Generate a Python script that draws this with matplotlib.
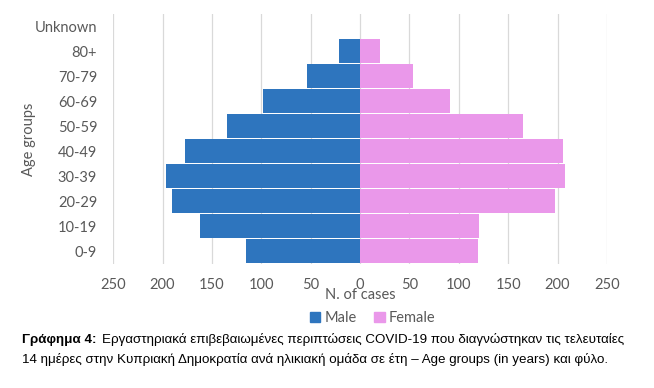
import numpy as np
import matplotlib
matplotlib.use("Agg")
import matplotlib.pyplot as plt
from matplotlib.patches import Patch

# data
age_groups = ["0-9", "10-19", "20-29", "30-39", "40-49", "50-59", "60-69", "70-79", "80+", "Unknown"]
male = [115, 162, 190, 196, 177, 135, 98, 54, 21, 0]
female = [119, 120, 197, 208, 206, 165, 91, 54, 20, 0]
xticks = [-250, -200, -150, -100, -50, 0, 50, 100, 150, 200, 250]

BLUE = "#2E75BE"
PINK = "#EA98EA"
GREY = "#595959"

plt.rcParams['font.family'] = ['Lato', 'DejaVu Sans']

fig = plt.figure(figsize=(6.54, 3.88), dpi=100)
ax = fig.add_axes([0.173, 0.32, 0.755, 0.644])

y = np.arange(len(age_groups))
ax.barh(y, -np.array(male), height=0.96, color=BLUE, label="Male")
ax.barh(y, female, height=0.96, color=PINK, label="Female")

ax.set_xlim(-250, 250)
ax.set_ylim(-0.5, len(age_groups) - 0.5)
ax.set_xticks(xticks)
ax.set_xticklabels([str(abs(t)) for t in xticks])
ax.set_yticks(y)
ax.set_yticklabels(age_groups)
ax.tick_params(axis="both", length=0, labelsize=10.5, colors=GREY)
ax.tick_params(axis="x", pad=10)
ax.tick_params(axis="y", pad=11.5)
ax.xaxis.grid(True, color="#D9D9D9", linewidth=0.9)
ax.set_axisbelow(True)
for s in ax.spines.values():
	s.set_visible(False)

ax.set_xlabel("N. of cases", fontsize=10.5, color=GREY, labelpad=-3)
ax.set_ylabel("Age groups", fontsize=10.5, color=GREY)
ax.yaxis.set_label_coords(-0.156, 0.5)

handles = [Patch(color=BLUE, label="Male"), Patch(color=PINK, label="Female")]
fig.legend(handles=handles, loc="center", bbox_to_anchor=(0.57, 1 - 318 / 388), ncol=2,
	frameon=False, fontsize=10.5, labelcolor=GREY, handlelength=0.7, handleheight=0.7,
	handletextpad=0.3, columnspacing=1.2)

# caption
cap = ['Liberation Sans', 'DejaVu Sans']
cs = 9.6
fig.text(22 / 654, 1 - 340 / 388, "Γράφημα 4:", fontsize=cs, fontweight="bold", family=cap, va="center")
fig.text(102 / 654, 1 - 340 / 388, "Εργαστηριακά επιβεβαιωμένες περιπτώσεις COVID-19 που διαγνώστηκαν τις τελευταίες",
	fontsize=cs, family=cap, va="center")
fig.text(22 / 654, 1 - 359 / 388, "14 ημέρες στην Κυπριακή Δημοκρατία ανά ηλικιακή ομάδα σε έτη – Age groups (in years) και φύλο.",
	fontsize=cs, family=cap, va="center")

fig.savefig("out.png", dpi=100)
